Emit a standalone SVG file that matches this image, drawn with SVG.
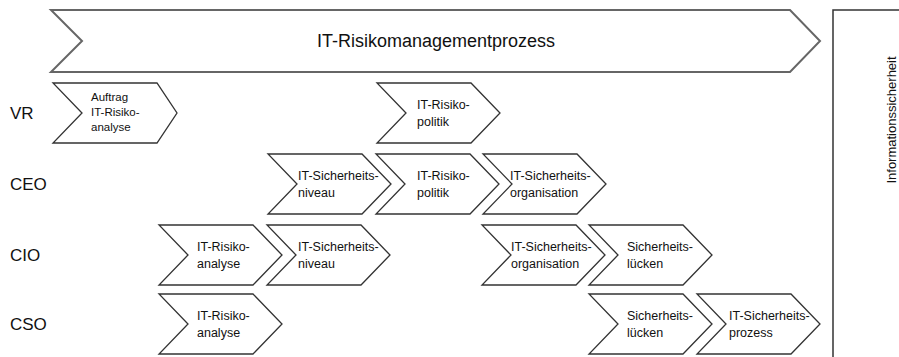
<svg xmlns="http://www.w3.org/2000/svg" width="899" height="357" viewBox="0 0 899 357">
<style>
  .chev { fill: #fff; stroke: #333; stroke-width: 1.3; stroke-linejoin: miter; }
  .big { fill: #fff; stroke: #666; stroke-width: 2; }
  .box { fill: none; stroke: #333; stroke-width: 1.5; }
  .t { font-family: "Liberation Sans", Arial, sans-serif; font-size: 12.5px; fill: #111; }
  .ts { font-family: "Liberation Sans", Arial, sans-serif; font-size: 11.5px; fill: #111; }
  .row { font-family: "Liberation Sans", Arial, sans-serif; font-size: 17px; fill: #111; }
  .title { font-family: "Liberation Sans", Arial, sans-serif; font-size: 18px; fill: #111; }
  .side { font-family: "Liberation Sans", Arial, sans-serif; font-size: 13px; fill: #111; }
</style>
<defs>
  <path id="chev" class="chev" d="M0,0 H94 L123,30 L94,60 H0 L29,30 Z"/>
</defs>

<g id="process">
  <path class="big" d="M51,10 H790 L820,41 L790,72 H51 L82,41 Z"/>
  <text class="title" x="436" y="47" text-anchor="middle">IT-Risikomanagementprozess</text>
</g>

<g id="infosec">
  <path class="box" d="M833,357 V10 H899"/>
  <text class="side" transform="translate(896,120) rotate(-90)" text-anchor="middle">Informationssicherheit</text>
</g>

<g id="labels">
  <text class="row" x="10" y="119">VR</text>
  <text class="row" x="10" y="190">CEO</text>
  <text class="row" x="10" y="261">CIO</text>
  <text class="row" x="10" y="330">CSO</text>
</g>

<g id="connectors"></g>

<g id="vr-auftrag" transform="translate(53,83)">
  <path class="chev" d="M0,0 H104 L124,30 L104,60 H0 L29,30 Z"/>
  <text class="ts" x="38" y="18">Auftrag</text>
  <text class="ts" x="38" y="33">IT-Risiko-</text>
  <text class="ts" x="38" y="48">analyse</text>
</g>
<g id="vr-politik" transform="translate(377,83)">
  <use href="#chev"/>
  <text class="t" x="40" y="26">IT-Risiko-</text>
  <text class="t" x="40" y="43">politik</text>
</g>

<g id="ceo-niveau" transform="translate(268,154)">
  <use href="#chev"/>
  <text class="t" x="30" y="26">IT-Sicherheits-</text>
  <text class="t" x="30" y="43">niveau</text>
</g>
<g id="ceo-politik" transform="translate(376,154)">
  <use href="#chev"/>
  <text class="t" x="41" y="26">IT-Risiko-</text>
  <text class="t" x="41" y="43">politik</text>
</g>
<g id="ceo-organisation" transform="translate(483,154)">
  <use href="#chev"/>
  <text class="t" x="27" y="26">IT-Sicherheits-</text>
  <text class="t" x="27" y="43">organisation</text>
</g>

<g id="cio-analyse" transform="translate(159,225)">
  <use href="#chev"/>
  <text class="t" x="38" y="26">IT-Risiko-</text>
  <text class="t" x="38" y="43">analyse</text>
</g>
<g id="cio-niveau" transform="translate(267,225)">
  <use href="#chev"/>
  <text class="t" x="31" y="26">IT-Sicherheits-</text>
  <text class="t" x="31" y="43">niveau</text>
</g>
<g id="cio-organisation" transform="translate(482,225)">
  <use href="#chev"/>
  <text class="t" x="29" y="26">IT-Sicherheits-</text>
  <text class="t" x="29" y="43">organisation</text>
</g>
<g id="cio-luecken" transform="translate(589,225)">
  <use href="#chev"/>
  <text class="t" x="38" y="26">Sicherheits-</text>
  <text class="t" x="38" y="43">lücken</text>
</g>

<g id="cso-analyse" transform="translate(159,294)">
  <use href="#chev"/>
  <text class="t" x="38" y="26">IT-Risiko-</text>
  <text class="t" x="38" y="43">analyse</text>
</g>
<g id="cso-luecken" transform="translate(589,294)">
  <use href="#chev"/>
  <text class="t" x="38" y="26">Sicherheits-</text>
  <text class="t" x="38" y="43">lücken</text>
</g>
<g id="cso-prozess" transform="translate(697,294)">
  <use href="#chev"/>
  <text class="t" x="32" y="26">IT-Sicherheits-</text>
  <text class="t" x="32" y="43">prozess</text>
</g>
</svg>
